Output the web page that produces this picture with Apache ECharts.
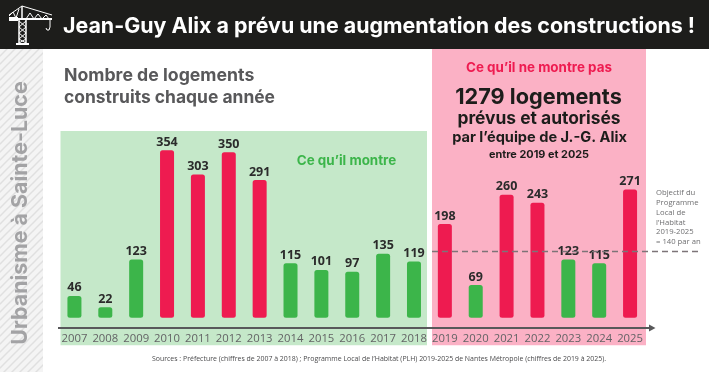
<!DOCTYPE html>
<html><head><meta charset="utf-8">
<style>html,body{margin:0;padding:0;background:#fff}#c{width:709px;height:372px}</style>
<script src="https://cdn.jsdelivr.net/npm/echarts@6/dist/echarts.min.js"></script>
</head><body><div id="c"></div>
<script>
const years = ['2007','2008','2009','2010','2011','2012','2013','2014','2015','2016','2017','2018','2019','2020','2021','2022','2023','2024','2025'];
const logements = [46,22,123,354,303,350,291,115,101,97,135,119,198,69,260,243,123,115,271];
const objectif = 140;
const RED = '#ee1b50', GREEN = '#3cb54a';

const chart = echarts.init(document.getElementById('c'), null, {renderer:'canvas'});

const pat = document.createElement('canvas');
pat.width = 8; pat.height = 8;
const p = pat.getContext('2d');
p.fillStyle = '#f4f4f4'; p.fillRect(0,0,8,8);
p.strokeStyle = '#e0e0e0'; p.lineWidth = 1.5;
[[-2,2,2,-2],[0,8,8,0],[6,10,10,6]].forEach(s=>{p.beginPath();p.moveTo(s[0],s[1]);p.lineTo(s[2],s[3]);p.stroke();});

const T = (x,y,text,font,fill,align) => ({type:'text',x,y,z:20,style:{text,font,fill,align:align||'left',verticalAlign:'middle'}});
const ln = (pts,w) => ({type:'polyline',z:21,shape:{points:pts},style:{stroke:'#fff',fill:null,lineWidth:w||1}});
const G = 'Inter, sans-serif';
const NOTE = '400 7.7px "Open Sans"';

chart.setOption({
  animation:false,
  grid:{left:59,right:63.5,top:20,bottom:49.3},
  xAxis:{type:'category',data:years,offset:5,
    axisLine:{show:false},
    axisTick:{show:false},
    axisLabel:{color:'#636365',fontFamily:'Open Sans',fontSize:11.3,margin:6,interval:0}},
  yAxis:{type:'value',min:-10.6,max:629.4,show:false,splitLine:{show:false}},
  graphic:[
    {type:'rect',z:-5,shape:{x:60.5,y:131,width:366.5,height:214.3},style:{fill:'#c5e8c9'}},
    {type:'rect',z:-5,shape:{x:432,y:49,width:214,height:296.3},style:{fill:'#fbb1c5'}},
    {type:'rect',z:10,shape:{x:0,y:0,width:709,height:49},style:{fill:'#1d1d1b'}},
    {type:'rect',z:-5,shape:{x:0,y:49,width:43,height:323},style:{fill:{image:pat,repeat:'repeat'}}},
    {type:'polyline',z:12,shape:{points:[[58,328],[652,328]]},style:{stroke:'#58585a',lineWidth:2,fill:null}},
    {type:'polygon',z:12,shape:{points:[[649,324.5],[655.5,328],[649,331.5]]},style:{fill:'#58585a'}},
    ln([[19,20],[19,43]],1.5),ln([[26,20],[26,43]],1.5),ln([[16,44],[29,44]],2),
    ln([[19,21],[26,27],[19,33],[26,39],[19,43]]),ln([[26,21],[19,27],[26,33],[19,39],[26,43]]),
    ln([[9,15],[22,6],[52,15]]),ln([[9,19],[52,19]],2),
    {type:'rect',z:21,shape:{x:9,y:17,width:9,height:4},style:{fill:'#fff'}},
    ln([[22,6],[22,19]],1.5),
    ln([[26,19],[30,13],[34,19],[38,14],[42,19],[46,15],[49,19]]),
    ln([[9,16],[13,12],[16,18],[19,9]]),
    ln([[50,19],[50,27],[49,30],[47,30],[46,28]]),
    T(63,27,'Jean-Guy Alix a prévu une augmentation des constructions !','700 21.4px '+G,'#ffffff'),
    T(64,76,'Nombre de logements','700 17.7px '+G,'#58585a'),
    T(64,98,'construits chaque année','700 17.45px '+G,'#58585a'),
    T(346.5,161,'Ce qu’il montre','700 13.4px '+G,GREEN,'center'),
    T(539,68,'Ce qu’il ne montre pas','700 13.4px '+G,RED,'center'),
    T(538.5,97,'1279 logements','700 21.7px '+G,'#1d1d1b','center'),
    T(539,118.5,'prévus et autorisés','700 17.4px '+G,'#1d1d1b','center'),
    T(539.5,138,'par l’équipe de J.-G. Alix','700 14.6px '+G,'#1d1d1b','center'),
    T(539,155,'entre 2019 et 2025','700 10.9px '+G,'#1d1d1b','center'),
    T(656,193,'Objectif du',NOTE,'#6f6f71'),
    T(656,203,'Programme',NOTE,'#6f6f71'),
    T(656,213,'Local de',NOTE,'#6f6f71'),
    T(656,223,'l’Habitat',NOTE,'#6f6f71'),
    T(656,232,'2019-2025',NOTE,'#6f6f71'),
    T(656,242,'= 140 par an',NOTE,'#6f6f71'),
    T(379,359,'Sources : Préfecture (chiffres de 2007 à 2018) ; Programme Local de l’Habitat (PLH) 2019-2025 de Nantes Métropole (chiffres de 2019 à 2025).','400 6.95px "Open Sans"','#4a4a4c','center'),
    {type:'text',z:20,x:21,y:213,rotation:Math.PI/2,style:{text:'Urbanisme à Sainte-Luce',font:'700 21.4px '+G,fill:'#a3a3a5',align:'center',verticalAlign:'middle'}}
  ],
  series:[
    {type:'line',z:1,data:[],symbol:'none',
      markLine:{silent:true,symbol:'none',label:{show:false},
        lineStyle:{color:'#7d7478',type:[6,4],width:1.4},
        data:[[{x:432,yAxis:objectif},{x:699,yAxis:objectif}]]}},
    {type:'bar',z:3,barWidth:14,startValue:-10.6,
      data:logements.map(v=>({value:v,itemStyle:{color:v>objectif?RED:GREEN,borderRadius:2.5}})),
      label:{show:true,position:'top',distance:1.5,color:'#2b2b2b',fontFamily:'Open Sans',fontWeight:700,fontSize:12.5}}
  ]
});
</script></body></html>
